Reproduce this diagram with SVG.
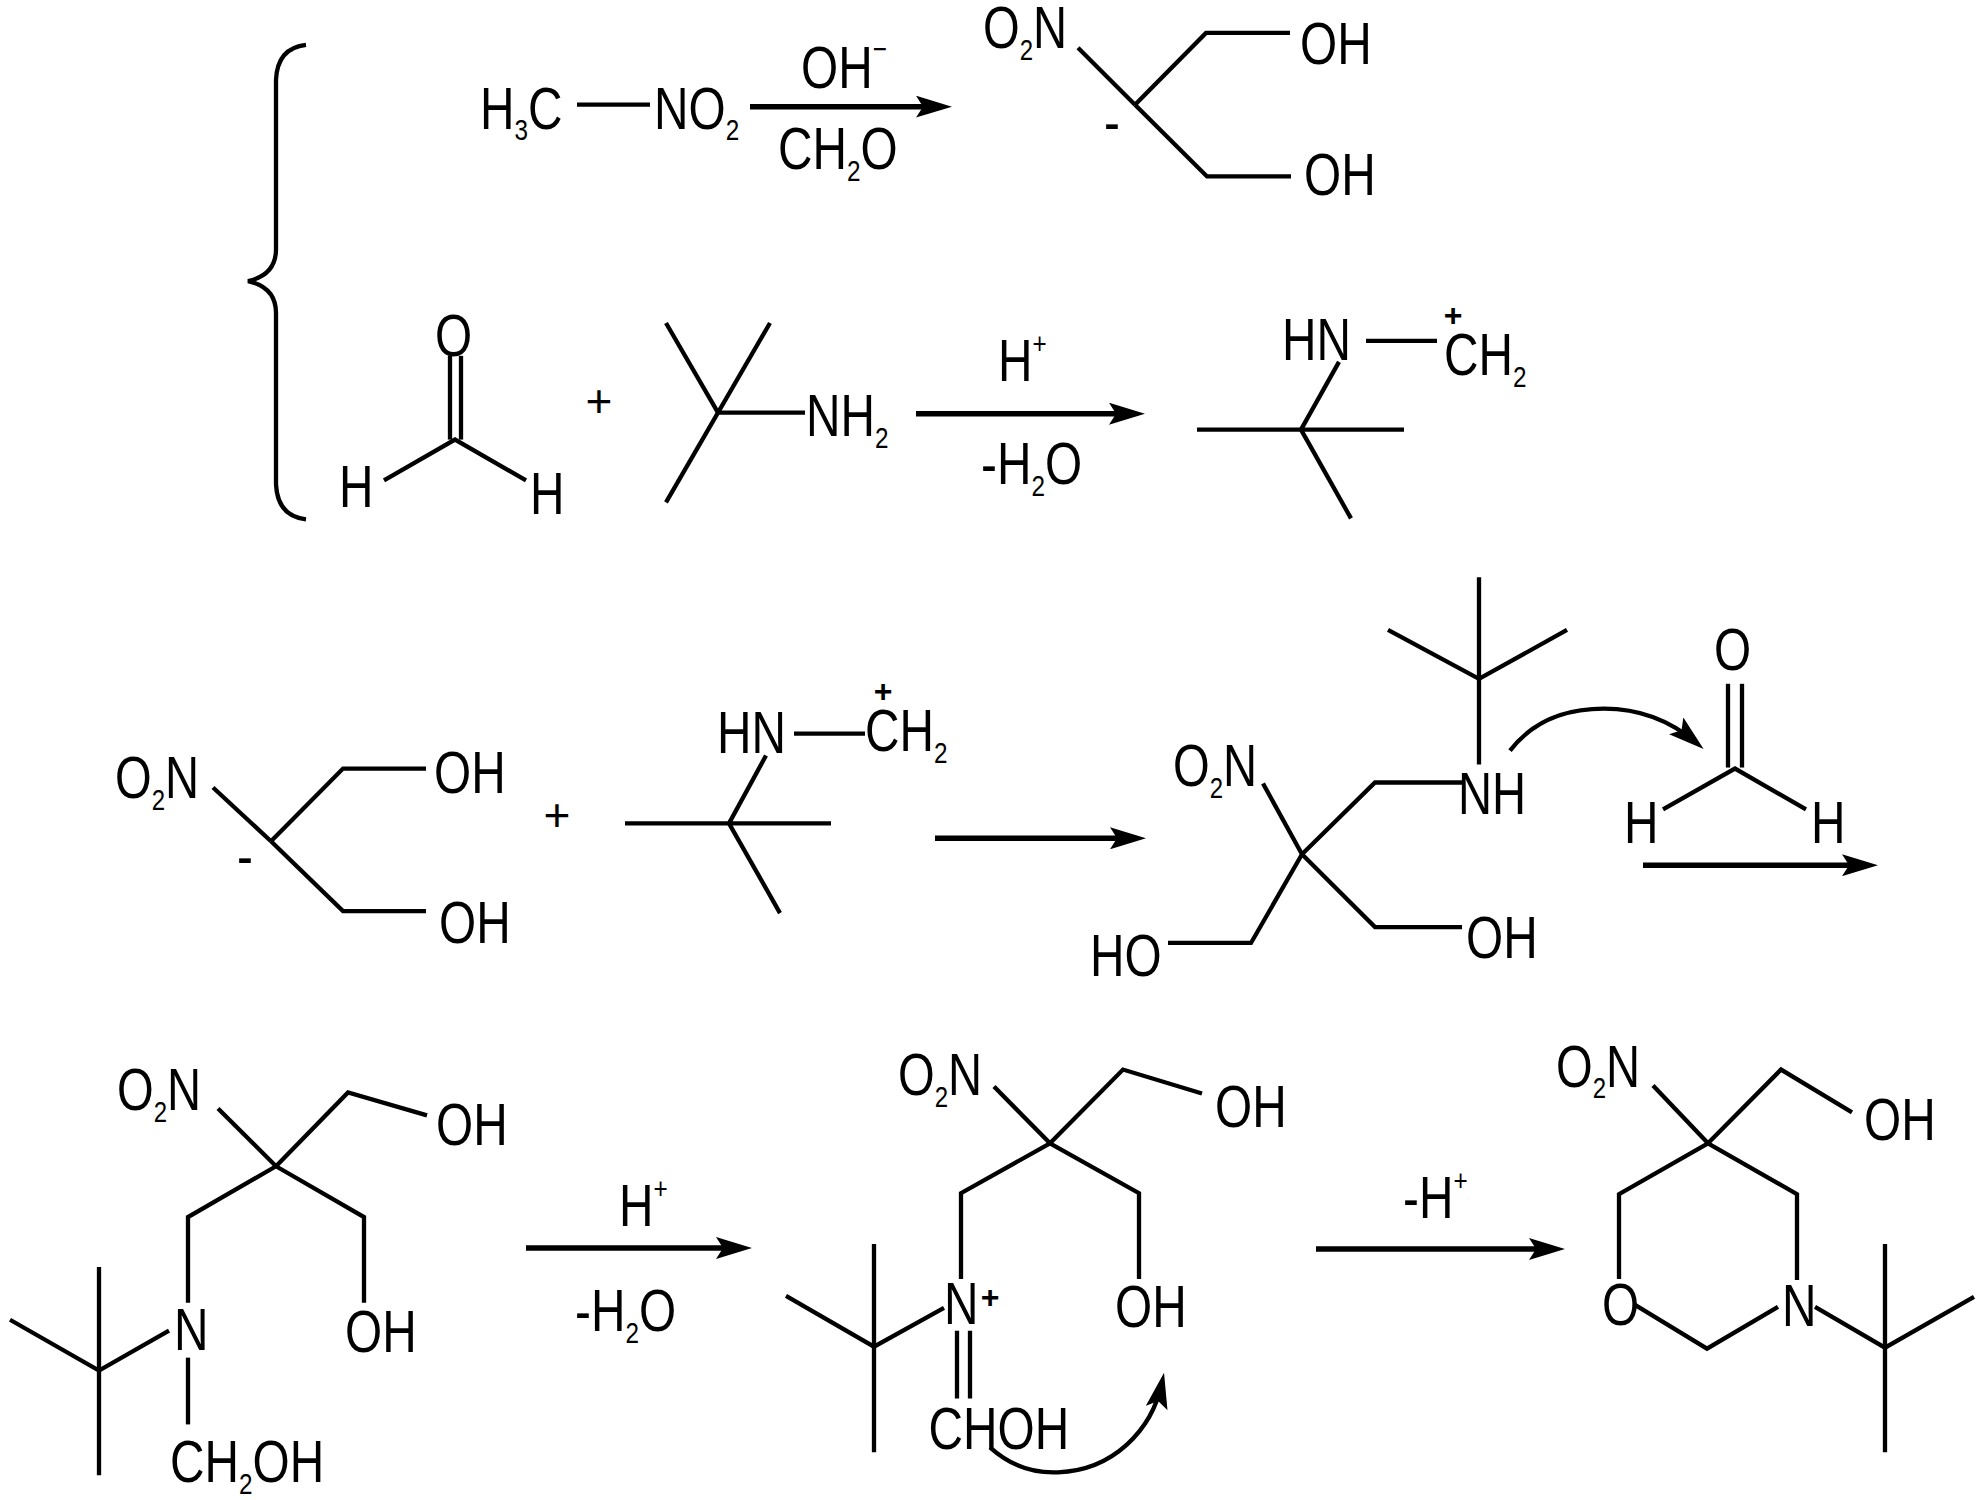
<svg xmlns="http://www.w3.org/2000/svg" width="1984" height="1500" viewBox="0 0 1984 1500">
<style>
text{font-family:"Liberation Sans",Arial,sans-serif;fill:#000}
.t{font-size:59px}
.s{font-size:30px}
.p{font-size:46px;text-anchor:middle}
.b{font-size:32px;font-weight:bold;text-anchor:middle}
#connectors line,#connectors polyline,#connectors path,#brace path{fill:none;stroke:#000;stroke-width:4.3;stroke-linejoin:miter}
#connectors .a{stroke-width:5.5;marker-end:url(#head)}
#connectors .c{stroke-width:4.3;marker-end:url(#head)}
</style>
<defs>
<marker id="head" markerUnits="userSpaceOnUse" markerWidth="36" markerHeight="22" viewBox="0 0 36 22" refX="26" refY="11" orient="auto"><path d="M0 0L36 11L0 22L7 11Z" fill="#000"/></marker>
</defs>
<rect width="1984" height="1500" fill="#fff"/>
<g id="drawing" transform="scale(1 .9968)">
<g id="brace"><path d="M306 45C288 47 277 58 276 80L276 250C276 268 266 278 248 282C266 286 276 296 276 314L276 486C277 508 288 519 306 521"/></g>
<g id="connectors">
<line x1="577" y1="105" x2="650" y2="105"/>
<line x1="1078" y1="48" x2="1135" y2="105"/>
<polyline points="1135,105 1206,33 1290,33"/>
<polyline points="1135,105 1207,177 1291,177"/>
<line x1="450" y1="357" x2="450" y2="441"/><line x1="461" y1="357" x2="461" y2="441"/>
<polyline points="384,482 455,441 526,482"/>
<line x1="666" y1="324" x2="718" y2="414"/><line x1="770" y1="324" x2="666" y2="504"/><line x1="718" y1="414" x2="805" y2="414"/>
<line x1="1366" y1="342" x2="1437" y2="342"/>
<line x1="1339" y1="363" x2="1301" y2="431"/><line x1="1197" y1="431" x2="1404" y2="431"/><line x1="1301" y1="431" x2="1351" y2="520"/>
<line x1="213" y1="790" x2="271" y2="844"/>
<polyline points="271,844 343,771 426,771"/><polyline points="271,844 343,914 426,914"/>
<line x1="794" y1="736" x2="865" y2="736"/>
<line x1="766" y1="758" x2="729" y2="826"/><line x1="625" y1="826" x2="831" y2="826"/><line x1="729" y1="826" x2="780" y2="916"/>
<line x1="1263" y1="786" x2="1302" y2="857"/>
<polyline points="1302,857 1375,785 1464,785"/>
<polyline points="1302,857 1251,946 1168,946"/>
<polyline points="1302,857 1375,930 1462,930"/>
<line x1="1479" y1="579" x2="1479" y2="767"/><polyline points="1388,632 1479,681 1567,632"/>
<line x1="1728" y1="686" x2="1728" y2="770"/><line x1="1742" y1="686" x2="1742" y2="770"/>
<polyline points="1663,812 1735,771 1806,812"/>
<line x1="218" y1="1112" x2="276" y2="1170"/><polyline points="276,1170 348,1096 427,1119"/>
<polyline points="276,1170 188,1221 188,1307"/><polyline points="276,1170 364,1221 364,1307"/>
<line x1="188" y1="1362" x2="188" y2="1429"/>
<line x1="99" y1="1271" x2="99" y2="1480"/><polyline points="10,1324 99,1375 169,1335"/>
<line x1="994" y1="1090" x2="1050" y2="1147"/><polyline points="1050,1147 1123,1073 1202,1097"/>
<polyline points="1050,1147 961,1197 961,1283"/><polyline points="1050,1147 1139,1197 1139,1283"/>
<line x1="874" y1="1248" x2="874" y2="1457"/><polyline points="786,1300 874,1351 944,1312"/>
<line x1="957" y1="1335" x2="957" y2="1403"/><line x1="970" y1="1335" x2="970" y2="1403"/>
<line x1="1653" y1="1089" x2="1708" y2="1147"/><polyline points="1708,1147 1781,1073 1852,1116"/>
<polyline points="1708,1147 1619,1198 1619,1283"/><polyline points="1708,1147 1797,1198 1797,1284"/>
<polyline points="1635,1309 1707,1353 1778,1311"/>
<polyline points="1815,1311 1885,1352 1974,1301"/><line x1="1885" y1="1248" x2="1885" y2="1457"/>
<line class="a" x1="750" y1="107" x2="942" y2="107"/>
<line class="a" x1="916" y1="415" x2="1135" y2="415"/>
<line class="a" x1="935" y1="841" x2="1136" y2="841"/>
<line class="a" x1="1643" y1="868" x2="1868" y2="868"/>
<line class="a" x1="526" y1="1252" x2="742" y2="1252"/>
<line class="a" x1="1316" y1="1253" x2="1555" y2="1253"/>
<path class="c" d="M1510 753C1534 722 1569 711 1604 711C1639 711 1669 722 1696 745"/>
<path class="c" d="M990 1452C1012 1472 1035 1478 1058 1477C1113 1475 1152 1435 1162 1387"/>
</g>
<g id="h3c-no2">
<text class="t" transform="matrix(.81 0 0 1 480 129)">H<tspan class="s" dy="11">3</tspan><tspan dy="-11">C</tspan></text>
<text class="t" transform="matrix(.81 0 0 1 654 129)">NO<tspan class="s" dy="11">2</tspan></text>
</g>
<g id="reagent-1">
<text class="t" transform="matrix(.81 0 0 1 801 88)">OH<tspan class="s" dy="-29">−</tspan></text>
<text class="t" transform="matrix(.81 0 0 1 778 170)">CH<tspan class="s" dy="12">2</tspan><tspan dy="-12">O</tspan></text>
</g>
<g id="diol-1">
<text class="t" transform="matrix(.8 0 0 1 983 48)">O<tspan class="s" dy="12">2</tspan><tspan dy="-12">N</tspan></text>
<text class="t" transform="matrix(.81 0 0 1 1300 64)">OH</text>
<text class="t" transform="matrix(.81 0 0 1 1304 196)">OH</text>
<text class="t" transform="matrix(.81 0 0 1 1104 142)">-</text>
</g>
<g id="formaldehyde-1">
<text class="t" transform="matrix(.81 0 0 1 435 357)">O</text>
<text class="t" transform="matrix(.81 0 0 1 339 509)">H</text>
<text class="t" transform="matrix(.81 0 0 1 530 516)">H</text>
</g>
<g id="plus-1"><text class="p" x="599" y="418">+</text></g>
<g id="tbu-nh2"><text class="t" transform="matrix(.81 0 0 1 806 437)">NH<tspan class="s" dy="12">2</tspan></text></g>
<g id="reagent-2">
<text class="t" transform="matrix(.81 0 0 1 998 382)">H<tspan class="s" dy="-27">+</tspan></text>
<text class="t" transform="matrix(.81 0 0 1 981 486)">-H<tspan class="s" dy="12">2</tspan><tspan dy="-12">O</tspan></text>
</g>
<g id="iminium-1">
<text class="t" transform="matrix(.81 0 0 1 1282 361)">HN</text>
<text class="t" transform="matrix(.81 0 0 1 1444 376)">CH<tspan class="s" dy="12">2</tspan></text>
<text class="b" x="1453" y="327">+</text>
</g>
<g id="diol-2">
<text class="t" transform="matrix(.8 0 0 1 115 801)">O<tspan class="s" dy="12">2</tspan><tspan dy="-12">N</tspan></text>
<text class="t" transform="matrix(.81 0 0 1 434 796)">OH</text>
<text class="t" transform="matrix(.81 0 0 1 439 946)">OH</text>
<text class="t" transform="matrix(.81 0 0 1 237 879)">-</text>
</g>
<g id="plus-2"><text class="p" x="557" y="834">+</text></g>
<g id="iminium-2">
<text class="t" transform="matrix(.81 0 0 1 717 755)">HN</text>
<text class="t" transform="matrix(.81 0 0 1 865 753)">CH<tspan class="s" dy="12">2</tspan></text>
<text class="b" x="883" y="704">+</text>
</g>
<g id="amine-triol">
<text class="t" transform="matrix(.8 0 0 1 1173 789)">O<tspan class="s" dy="12">2</tspan><tspan dy="-12">N</tspan></text>
<text class="t" transform="matrix(.8 0 0 1 1458 817)">NH</text>
<text class="t" transform="matrix(.81 0 0 1 1090 979)">HO</text>
<text class="t" transform="matrix(.81 0 0 1 1466 961)">OH</text>
</g>
<g id="formaldehyde-2">
<text class="t" transform="matrix(.81 0 0 1 1714 672)">O</text>
<text class="t" transform="matrix(.81 0 0 1 1624 846)">H</text>
<text class="t" transform="matrix(.81 0 0 1 1811 846)">H</text>
</g>
<g id="hemiaminal">
<text class="t" transform="matrix(.8 0 0 1 117 1114)">O<tspan class="s" dy="12">2</tspan><tspan dy="-12">N</tspan></text>
<text class="t" transform="matrix(.81 0 0 1 436 1149)">OH</text>
<text class="t" transform="matrix(.81 0 0 1 345 1356)">OH</text>
<text class="t" transform="matrix(.81 0 0 1 174 1354)">N</text>
<text class="t" transform="matrix(.81 0 0 1 170 1487)">CH<tspan class="s" dy="12">2</tspan><tspan dy="-12">OH</tspan></text>
</g>
<g id="reagent-3">
<text class="t" transform="matrix(.81 0 0 1 619 1230)">H<tspan class="s" dy="-27">+</tspan></text>
<text class="t" transform="matrix(.81 0 0 1 575 1335)">-H<tspan class="s" dy="12">2</tspan><tspan dy="-12">O</tspan></text>
</g>
<g id="iminium-3">
<text class="t" transform="matrix(.8 0 0 1 898 1099)">O<tspan class="s" dy="12">2</tspan><tspan dy="-12">N</tspan></text>
<text class="t" transform="matrix(.81 0 0 1 1215 1131)">OH</text>
<text class="t" transform="matrix(.81 0 0 1 1115 1331)">OH</text>
<text class="t" transform="matrix(.81 0 0 1 944 1328)">N</text>
<text class="b" x="990" y="1312">+</text>
<text class="t" transform="matrix(.81 0 0 1 928.5 1454)">CHOH</text>
</g>
<g id="reagent-4"><text class="t" transform="matrix(.81 0 0 1 1403 1222)">-H<tspan class="s" dy="-27">+</tspan></text></g>
<g id="product">
<text class="t" transform="matrix(.8 0 0 1 1556 1090)">O<tspan class="s" dy="12">2</tspan><tspan dy="-12">N</tspan></text>
<text class="t" transform="matrix(.81 0 0 1 1864 1144)">OH</text>
<text class="t" transform="matrix(.81 0 0 1 1602 1329)">O</text>
<text class="t" transform="matrix(.81 0 0 1 1782 1330)">N</text>
</g>
</g>
</svg>
